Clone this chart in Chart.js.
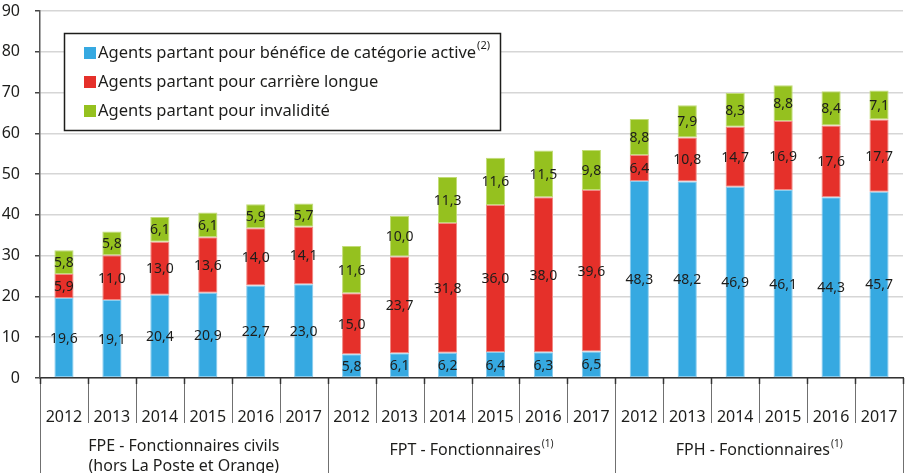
<!DOCTYPE html>
<html>
<head>
<meta charset="utf-8">
<script src="https://cdn.jsdelivr.net/npm/chart.js@4/dist/chart.umd.min.js"></script>
<style>
html,body{margin:0;padding:0;background:#ffffff;}
#wrap{width:907px;height:473px;position:relative;}
</style>
</head>
<body>
<div id="wrap"><canvas id="c" width="907" height="473"></canvas></div>
<script>
// ---- Data ----
const years = ['2012','2013','2014','2015','2016','2017','2012','2013','2014','2015','2016','2017','2012','2013','2014','2015','2016','2017'];
const groupLabels = [['FPE - Fonctionnaires civils','(hors La Poste et Orange)'], ['FPT - Fonctionnaires'], ['FPH - Fonctionnaires']];
const groupSup = ['', '(1)', '(1)'];
const groupSize = 6;
const seriesNames = ['Agents partant pour bénéfice de catégorie active', 'Agents partant pour carrière longue', 'Agents partant pour invalidité'];
const seriesSup = ['(2)', '', ''];
const categorieActive = [19.6,19.1,20.4,20.9,22.7,23.0, 5.8,6.1,6.2,6.4,6.3,6.5, 48.3,48.2,46.9,46.1,44.3,45.7];
const carriereLongue = [5.9,11.0,13.0,13.6,14.0,14.1, 15.0,23.7,31.8,36.0,38.0,39.6, 6.4,10.8,14.7,16.9,17.6,17.7];
const invalidite = [5.8,5.8,6.1,6.1,5.9,5.7, 11.6,10.0,11.3,11.6,11.5,9.8, 8.8,7.9,8.3,8.8,8.4,7.1];
const yMin = 0, yMax = 90, yStep = 10;

// ---- Styles ----
const colors = ['#36a9e1', '#e5302a', '#95c11f'];
const edgeColors = ['#8ccdee', '#f08a84', '#c2dc78'];
const FONT = '"Noto Sans", "Open Sans", sans-serif';
const TEXT = '#1d1d1b';

const dataLabelsPlugin = {
  id: 'dataLabels',
  afterDatasetsDraw(chart) {
    const ctx = chart.ctx;
    ctx.save();
    ctx.font = '14px ' + FONT;
    ctx.fillStyle = TEXT;
    ctx.textAlign = 'center';
    ctx.textBaseline = 'middle';
    chart.data.datasets.forEach((ds, di) => {
      const meta = chart.getDatasetMeta(di);
      meta.data.forEach((el, i) => {
        const v = ds.data[i];
        const y = (el.y + el.base) / 2;
        ctx.fillText(v.toFixed(1).replace('.', ','), el.x, y + 1);
      });
    });
    ctx.restore();
  }
};

const legendBoxPlugin = {
  id: 'legendBox',
  afterDraw(chart) {
    const ctx = chart.ctx;
    ctx.save();
    ctx.fillStyle = '#ffffff';
    ctx.fillRect(64, 33, 436, 97);
    ctx.strokeStyle = '#1d1d1b';
    ctx.lineWidth = 1.5;
    ctx.strokeRect(64.5, 33.5, 436, 97);
    const rows = [53, 82, 111];
    seriesNames.forEach((name, i) => {
      ctx.fillStyle = colors[i];
      ctx.fillRect(84, rows[i] - 6, 12, 12);
      ctx.fillStyle = TEXT;
      ctx.font = '16.5px ' + FONT;
      ctx.textAlign = 'left';
      ctx.textBaseline = 'middle';
      ctx.fillText(name, 98, rows[i]);
      if (seriesSup[i]) {
        const w = ctx.measureText(name).width;
        ctx.font = '11px ' + FONT;
        ctx.fillText(seriesSup[i], 98 + w + 1, rows[i] - 7);
      }
    });
    ctx.restore();
  }
};

const xDecorPlugin = {
  id: 'xDecor',
  afterDraw(chart) {
    const ctx = chart.ctx;
    const xs = chart.scales.x;
    const bottom = chart.chartArea.bottom;
    ctx.save();
    for (let i = 0; i <= years.length; i++) {
      const x = Math.round(xs.getPixelForValue(i - 0.5)) + 0.5;
      const isGroup = i % groupSize === 0;
      ctx.strokeStyle = '#707070';
      ctx.lineWidth = 1;
      ctx.beginPath();
      ctx.moveTo(x, bottom);
      ctx.lineTo(x, isGroup ? 473 : 423);
      ctx.stroke();
      ctx.strokeStyle = '#333333';
      ctx.lineWidth = 1.5;
      ctx.beginPath();
      ctx.moveTo(x, bottom);
      ctx.lineTo(x, bottom + 6);
      ctx.stroke();
    }
    ctx.fillStyle = TEXT;
    ctx.textBaseline = 'middle';
    groupLabels.forEach((lines, g) => {
      const cx = (xs.getPixelForValue(g * groupSize - 0.5) + xs.getPixelForValue(g * groupSize + groupSize - 0.5)) / 2;
      const y0 = lines.length > 1 ? 446 : 450;
      lines.forEach((ln, k) => {
        ctx.font = '16px ' + FONT;
        const w = ctx.measureText(ln).width;
        let sw = 0;
        if (k === 0 && groupSup[g]) {
          ctx.font = '10px ' + FONT;
          sw = ctx.measureText(groupSup[g]).width + 1;
        }
        const left = cx - (w + sw) / 2;
        ctx.font = '16px ' + FONT;
        ctx.textAlign = 'left';
        ctx.fillText(ln, left, y0 + k * 20);
        if (sw) {
          ctx.font = '10px ' + FONT;
          ctx.fillText(groupSup[g], left + w + 1, y0 - 6);
        }
      });
    });
    ctx.restore();
  }
};

new Chart(document.getElementById('c'), {
  type: 'bar',
  data: {
    labels: years,
    datasets: [
      { label: seriesNames[0], data: categorieActive, backgroundColor: colors[0], borderColor: edgeColors[0], borderWidth: 1, borderSkipped: false },
      { label: seriesNames[1], data: carriereLongue, backgroundColor: colors[1], borderColor: edgeColors[1], borderWidth: 1, borderSkipped: false },
      { label: seriesNames[2], data: invalidite, backgroundColor: colors[2], borderColor: edgeColors[2], borderWidth: 1, borderSkipped: false }
    ]
  },
  options: {
    responsive: false,
    animation: false,
    devicePixelRatio: 1,
    layout: { padding: { top: 11, right: 4, left: 0, bottom: 0 } },
    datasets: { bar: { barPercentage: 0.4, categoryPercentage: 1.0 } },
    plugins: { legend: { display: false }, tooltip: { enabled: false } },
    scales: {
      x: {
        stacked: true,
        offset: true,
        grid: { display: false, drawTicks: false },
        border: { display: true, color: '#333333', width: 1.5 },
        ticks: { color: TEXT, font: { family: FONT, size: 16 }, padding: 30, maxRotation: 0, autoSkip: false },
        afterFit(s) { s.height = 95; s.paddingLeft = 0; s.paddingRight = 0; }
      },
      y: {
        stacked: true,
        min: yMin, max: yMax,
        ticks: { stepSize: yStep, color: TEXT, font: { family: FONT, size: 16 }, padding: 15 },
        grid: { color: '#d6d6d6', lineWidth: 1.5, tickColor: '#444444', tickLength: 5 },
        border: { display: true, color: '#555555', width: 1.5 },
        afterFit(s) { s.width = 40; s.paddingTop = 0; s.paddingBottom = 0; }
      }
    }
  },
  plugins: [dataLabelsPlugin, legendBoxPlugin, xDecorPlugin]
});
</script>
</body>
</html>
